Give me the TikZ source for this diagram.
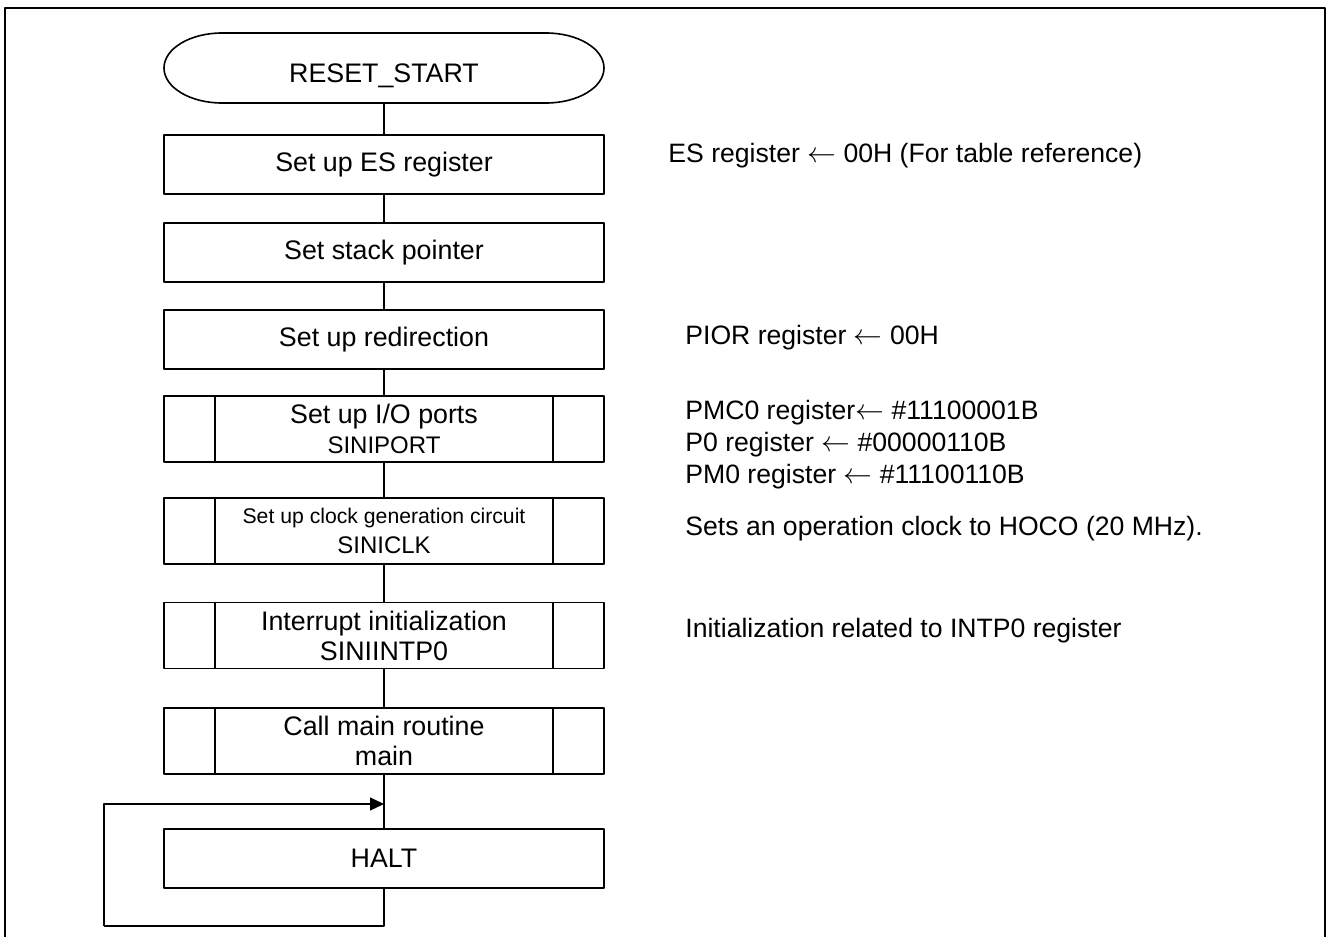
\documentclass[tikz,border=0pt]{standalone}
\usepackage{fontspec}
\setmainfont{Liberation Sans}
\usetikzlibrary{arrows.meta}
\begin{document}
\begin{tikzpicture}[x=0.5pt,y=-0.5pt,>={Triangle[length=7pt,width=6.5pt]},line join=round,
	font=\fontsize{13.4}{15}\selectfont,
	box/.style={draw,line width=0.8pt,minimum width=220pt,minimum height=29.5pt,inner sep=0pt,align=center},
	subbox/.style={box,minimum height=33pt},
	note/.style={anchor=west,align=left,inner sep=0pt,font=\fontsize{13.3}{16}\selectfont}]
			\def\gS{26pt}
			\def\la{$\leftarrow$}
			\useasboundingbox (0,0) rectangle (1328,937);
			\draw[line width=1pt] (5,945)--(5,8)--(1325,8)--(1325,945);
			\node[minimum width=220pt,minimum height=35pt,inner sep=0pt] (start) at (384,76) {RESET\_START};
			\draw[line width=0.8pt]
			(222,33)--(546,33) arc[start angle=90,end angle=-90,x radius=29pt,y radius=17.5pt]
			--(222,103) arc[start angle=270,end angle=90,x radius=29pt,y radius=17.5pt]--cycle
			;
			\node[box] (es) at (384,164.5) {Set up ES register};
			\node[box] (stack) at (384,252.5) {Set stack pointer};
			\node[box] (redir) at (384,339.5) {Set up redirection};
			\node[subbox] (port) at (384,429) {Set up I/O ports\\{\fontsize{12}{14}\selectfont SINIPORT}};
			\node[subbox] (clk) at (384,531) {{\fontsize{10.6}{11.5}\selectfont Set up clock generation circuit}\\{\fontsize{12}{13}\selectfont SINICLK}};
			\node[subbox] (intp) at (384,635.5) {Interrupt initialization\\SINIINTP0};
			\node[subbox] (callmain) at (384,741) {Call main routine\\main};
			\node[box] (halt) at (384,858.5) {HALT};
			\path
			(384,804) coordinate (join)
			(104,926) coordinate (loop)
			;
			\foreach \n in {port,clk,intp,callmain}
			{\draw[line width=0.8pt] ([xshift=\gS]\n.north west)--([xshift=\gS]\n.south west) ([xshift=-\gS]\n.north east)--([xshift=-\gS]\n.south east);}
			\draw[line width=0.6pt]
			(start.south|-0,103)--(es)--(stack)--(redir)--(port)--(clk)--(intp)--(callmain)--(halt)
			(halt)|-(loop)
			;
			\draw[line width=0.6pt,->] (loop)|-(join);
			\node[note] (esnote) at (668,156) {ES register \la\ 00H (For table reference)};
			\node[note] (piornote) at (685,338) {PIOR register \la\ 00H};
			\node[note] (portnote) at (685,445) {PMC0 register\la\ \#11100001B\\P0 register \la\ \#00000110B\\PM0 register \la\ \#11100110B};
			\node[note] (clknote) at (685,529) {Sets an operation clock to HOCO (20 MHz).};
			\node[note] (intpnote) at (685,631) {Initialization related to INTP0 register};
			% \foreach \x in {es,stack,redir,port,clk,intp,callmain,halt} \draw[red] (\x.center) circle (3);
		\end{tikzpicture}
\end{document}
